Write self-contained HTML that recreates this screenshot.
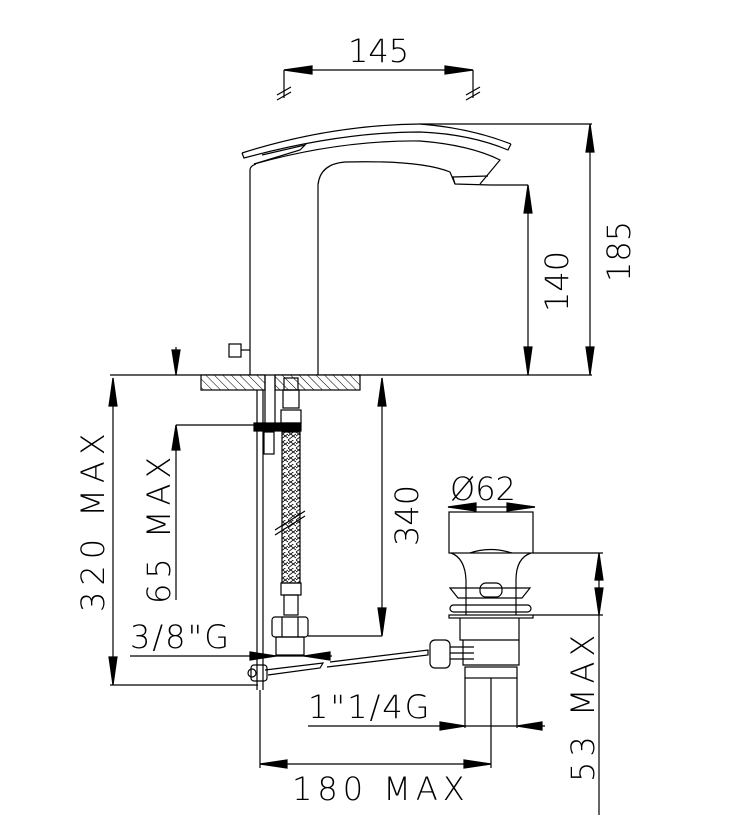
<!DOCTYPE html>
<html><head><meta charset="utf-8"><style>
html,body{margin:0;padding:0;background:#fff}
svg{display:block}
text{font-family:"DejaVu Sans","Liberation Sans",sans-serif;font-weight:200;fill:#000}
</style></head><body>
<svg width="739" height="820" viewBox="0 0 739 820" xmlns="http://www.w3.org/2000/svg">
<defs>
<pattern id="h" width="6" height="6" patternUnits="userSpaceOnUse" patternTransform="rotate(-45)">
<rect width="6" height="6" fill="#fff"/><line x1="0" y1="0" x2="0" y2="6" stroke="#000" stroke-width="1"/></pattern>
<pattern id="br" width="8" height="8" patternUnits="userSpaceOnUse">
<path d="M0 0 L8 6 M0 4 L8 -2 M0 8 L8 2" stroke="#000" stroke-width="0.8" fill="none"/></pattern>
</defs>
<g stroke="#000" stroke-width="1.2" fill="none">
<line x1="284" y1="70" x2="473" y2="70"/>
<line x1="284" y1="70" x2="284" y2="98"/><line x1="473" y1="70" x2="473" y2="98"/>
<path d="M277 95 L291 87 M277 100 L291 92 M466 95 L480 87 M466 100 L480 92"/>
<polygon points="284,70 312,66 312,74" fill="#000"/>
<polygon points="473,70 445,66 445,74" fill="#000"/>
<path d="M242 153 Q330 125 420 124 L592 124"/>
<path d="M242 153 L244 158 Q340 132 420 132 Q470 134 508 150 L511 144"/>
<path d="M420 124 Q470 128 511 144"/>
<path d="M254 164 L300 150 L305 145 L262 155"/>
<path d="M254 164 Q340 140 420 141 Q470 145 500 160 L480 184"/>
<path d="M250 375 L250 170 Q250 166 256 164"/>
<path d="M318 375 L318 185 Q320 164 345 162 Q420 160 450 172 L455 184 L490 185"/>
<path d="M455 184 L453 177 L488 176"/>
<rect x="229" y="344" width="12" height="13"/><line x1="241" y1="350" x2="250" y2="350"/>
<line x1="110" y1="375" x2="592" y2="375"/>
<line x1="528" y1="185" x2="528" y2="375"/><line x1="490" y1="185" x2="528" y2="185"/>
<polygon points="528,185 524,213 532,213" fill="#000"/><polygon points="528,375 524,347 532,347" fill="#000"/>
<line x1="590" y1="124" x2="590" y2="375"/>
<polygon points="590,124 586,152 594,152" fill="#000"/><polygon points="590,375 586,347 594,347" fill="#000"/>
<rect x="201" y="375" width="64" height="15" fill="url(#h)"/>
<rect x="275" y="375" width="85" height="15" fill="url(#h)"/>
<line x1="176" y1="347" x2="176" y2="375"/><polygon points="176,375 172,350 180,350" fill="#000"/>
<line x1="176" y1="425" x2="176" y2="600"/><polygon points="176,425 172,450 180,450" fill="#000"/>
<line x1="176" y1="425" x2="256" y2="425"/>
<line x1="113" y1="378" x2="113" y2="685"/>
<polygon points="113,378 109,406 117,406" fill="#000"/><polygon points="113,685 109,657 117,657" fill="#000"/>
<line x1="110" y1="685" x2="258" y2="685"/>
<line x1="257" y1="390" x2="257" y2="690"/><line x1="263" y1="390" x2="263" y2="690"/>
<line x1="265" y1="375" x2="265" y2="425"/><line x1="275" y1="375" x2="275" y2="425"/>
<rect x="264" y="432" width="10" height="22"/>
<rect x="254" y="423" width="47" height="8" fill="#000"/>
<rect x="284" y="378" width="14" height="12"/>
<rect x="283" y="390" width="16" height="18"/>
<rect x="281" y="410" width="20" height="13"/>
<rect x="282" y="432" width="18" height="151" fill="url(#br)"/>
<line x1="275" y1="535" x2="305" y2="516"/><line x1="275" y1="530" x2="305" y2="511"/>
<rect x="281" y="583" width="20" height="12"/>
<rect x="284" y="595" width="14" height="20"/>
<rect x="272" y="617" width="36" height="20" rx="3"/>
<line x1="282" y1="617" x2="282" y2="637"/><line x1="298" y1="617" x2="298" y2="637"/>
<rect x="276" y="637" width="28" height="18"/>
<line x1="382" y1="378" x2="382" y2="636"/><line x1="308" y1="636" x2="382" y2="636"/>
<polygon points="382,378 378,406 386,406" fill="#000"/><polygon points="382,636 378,608 386,608" fill="#000"/>
<line x1="130" y1="656" x2="332" y2="656"/>
<polygon points="276,656 250,652 250,660" fill="#000"/><polygon points="304,656 330,652 330,660" fill="#000"/>
<path d="M265 670 L323 663 L320 668 L268 675"/>
<path d="M330 662 L428 650 L428 655 L327 667"/>
<rect x="251" y="665" width="16" height="16" rx="3"/><circle cx="252" cy="673" r="4"/>
<rect x="430" y="640" width="20" height="28" rx="5"/>
<path d="M450 647 L474 647 M450 653 L474 653 M450 659 L474 659"/>
<line x1="448" y1="507" x2="535" y2="507"/>
<polygon points="448,507 476,503 476,511" fill="#000"/><polygon points="535,507 507,503 507,511" fill="#000"/>
<rect x="449" y="512" width="84" height="41"/>
<path d="M470 553 Q490 546 512 553"/>
<path d="M451 553 Q465 558 466 580 L466 615 M531 553 Q516 558 516 580 L516 615"/>
<path d="M450 588 L530 588 L522 598 L458 598 Z"/>
<rect x="480" y="583" width="22" height="14" rx="6"/>
<rect x="450" y="605" width="81" height="7" rx="3.5"/>
<rect x="449" y="615" width="84" height="3"/>
<path d="M460 618 L460 640 L519 640 L519 618"/>
<path d="M519 640 L519 665 L463 665 L463 640"/>
<rect x="465" y="667" width="52" height="11"/>
<line x1="465" y1="678" x2="465" y2="728"/><line x1="517" y1="678" x2="517" y2="728"/>
<line x1="491" y1="678" x2="491" y2="768"/>
<line x1="533" y1="553" x2="603" y2="553"/><line x1="533" y1="615" x2="603" y2="615"/>
<line x1="599" y1="553" x2="599" y2="815"/>
<polygon points="599,553 595,580 603,580" fill="#000"/><polygon points="599,615 595,588 603,588" fill="#000"/>
<line x1="308" y1="726" x2="545" y2="726"/>
<polygon points="465,726 440,722 440,730" fill="#000"/><polygon points="517,726 542,722 542,730" fill="#000"/>
<line x1="260" y1="690" x2="260" y2="768"/>
<line x1="260" y1="764" x2="491" y2="764"/>
<polygon points="260,764 287,760 287,768" fill="#000"/><polygon points="491,764 464,760 464,768" fill="#000"/>
</g>
<g font-size="32">
<text x="348" y="62">145</text>
<text transform="translate(568,312) rotate(-90)">140</text>
<text transform="translate(630,282) rotate(-90)">185</text>
<text transform="translate(104,612) rotate(-90)" letter-spacing="6">320 MAX</text>
<text transform="translate(170,604) rotate(-90)" letter-spacing="5">65 MAX</text>
<text transform="translate(418,546) rotate(-90)">340</text>
<text x="450" y="500">Ø62</text>
<text x="130" y="648" letter-spacing="2">3/8"G</text>
<text x="308" y="718" letter-spacing="2">1"1/4G</text>
<text x="292" y="800" letter-spacing="5">180 MAX</text>
<text transform="translate(594,782) rotate(-90)" letter-spacing="5">53 MAX</text>
</g>
</svg>
</body></html>
